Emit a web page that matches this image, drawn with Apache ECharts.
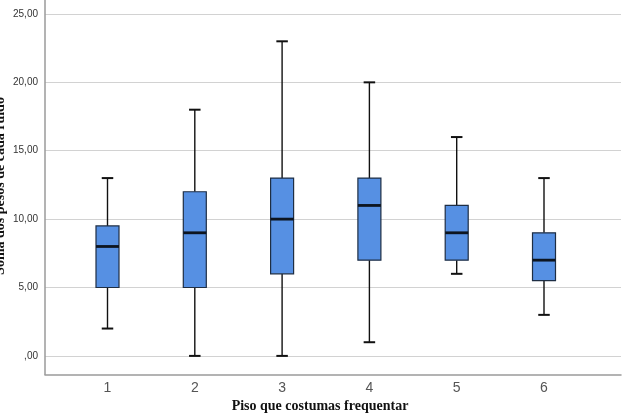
<!DOCTYPE html>
<html>
<head>
<meta charset="utf-8">
<script src="https://cdn.jsdelivr.net/npm/echarts@6/dist/echarts.min.js"></script>
<style>html,body{margin:0;padding:0;background:#fff}#c{width:624px;height:413px}</style>
</head>
<body>
<div id="c"></div>
<script>
// Data
const categories = ['1', '2', '3', '4', '5', '6'];
const mins    = [2, 0, 0, 1, 6, 3];
const q1s     = [5, 5, 6, 7, 7, 5.5];
const medians = [8, 9, 10, 11, 9, 7];
const q3s     = [9.5, 12, 13, 13, 11, 9];
const maxs    = [13, 18, 23, 20, 16, 13];
const yTicks  = [0, 5, 10, 15, 20, 25];
const xTitle = 'Piso que costumas frequentar';
const yTitle = 'Soma dos pesos de cada ruído';

const Y_MIN = -1.36, Y_MAX = 26.02;
const boxData = categories.map((c, i) => [i, mins[i], q1s[i], medians[i], q3s[i], maxs[i]]);

function fmt(v) {
  if (yTicks.indexOf(v) < 0) return '';
  if (v === 0) return ',00';
  return v.toFixed(2).replace('.', ',');
}

const chart = echarts.init(document.getElementById('c'), null, {renderer: 'canvas'});
chart.setOption({
  animation: false,
  backgroundColor: '#fff',
  grid: [
    {left: 45, right: 3, top: 0, bottom: 38.5},
    {left: 63.85, width: 523.8, top: 0, bottom: 38.5}
  ],
  xAxis: [
    {gridIndex: 0, type: 'value', min: 0, max: 1,
     axisLine: {show: true, onZero: false, lineStyle: {color: '#9a9a9a', width: 1.5}},
     axisTick: {show: false}, axisLabel: {show: false}, splitLine: {show: false}},
    {gridIndex: 1, type: 'category', data: categories, boundaryGap: true,
     axisLine: {show: false, onZero: false}, axisTick: {show: false}, splitLine: {show: false},
     axisLabel: {margin: 7, fontSize: 14, color: '#555', fontFamily: 'Liberation Sans, Arial, sans-serif'}}
  ],
  yAxis: [
    {gridIndex: 0, type: 'value', min: Y_MIN, max: Y_MAX,
     axisLine: {show: true, onZero: false, lineStyle: {color: '#9a9a9a', width: 1.5}},
     axisTick: {show: false},
     axisLabel: {margin: 7, fontSize: 10, color: '#333', fontFamily: 'Liberation Sans, Arial, sans-serif',
                 showMinLabel: false, showMaxLabel: false, formatter: fmt},
     splitLine: {show: true, showMinLine: false, showMaxLine: false, lineStyle: {color: '#d2d2d2', width: 1}}},
    {gridIndex: 1, type: 'value', min: Y_MIN, max: Y_MAX, show: false, splitLine: {show: false}}
  ],
  series: [{
    type: 'custom',
    xAxisIndex: 1, yAxisIndex: 1,
    data: boxData,
    encode: {x: 0, y: [1, 2, 3, 4, 5]},
    renderItem: function (params, api) {
      const idx = api.value(0);
      const pMin = api.coord([idx, api.value(1)]);
      const pQ1 = api.coord([idx, api.value(2)]);
      const pMed = api.coord([idx, api.value(3)]);
      const pQ3 = api.coord([idx, api.value(4)]);
      const pMax = api.coord([idx, api.value(5)]);
      const x = pMed[0];
      const bw = 23, cw = 11.5;
      const lineStyle = {stroke: '#111', lineWidth: 1.4};
      return {
        type: 'group',
        children: [
          {type: 'line', shape: {x1: x, y1: pMax[1], x2: x, y2: pQ3[1]}, style: lineStyle},
          {type: 'line', shape: {x1: x, y1: pQ1[1], x2: x, y2: pMin[1]}, style: lineStyle},
          {type: 'line', shape: {x1: x - cw / 2, y1: pMax[1], x2: x + cw / 2, y2: pMax[1]}, style: {stroke: '#111', lineWidth: 2}},
          {type: 'line', shape: {x1: x - cw / 2, y1: pMin[1], x2: x + cw / 2, y2: pMin[1]}, style: {stroke: '#111', lineWidth: 2}},
          {type: 'rect', shape: {x: x - bw / 2, y: pQ3[1], width: bw, height: pQ1[1] - pQ3[1]},
           style: {fill: '#5690e3', stroke: '#1e2e44', lineWidth: 1.2}},
          {type: 'line', shape: {x1: x - bw / 2, y1: pMed[1], x2: x + bw / 2, y2: pMed[1]}, style: {stroke: '#0d1520', lineWidth: 2.8}}
        ]
      };
    }
  }],
  graphic: [
    {type: 'text', x: 320, y: 406,
     style: {text: xTitle, font: 'bold 14px "Liberation Serif", "Times New Roman", serif', fill: '#111',
             textAlign: 'center', textVerticalAlign: 'middle'}},
    {type: 'text', x: 7, y: 186, rotation: Math.PI / 2,
     style: {text: yTitle, font: 'bold 14px "Liberation Serif", "Times New Roman", serif', fill: '#111',
             textAlign: 'center', textVerticalAlign: 'bottom'}}
  ]
});
</script>
</body>
</html>
